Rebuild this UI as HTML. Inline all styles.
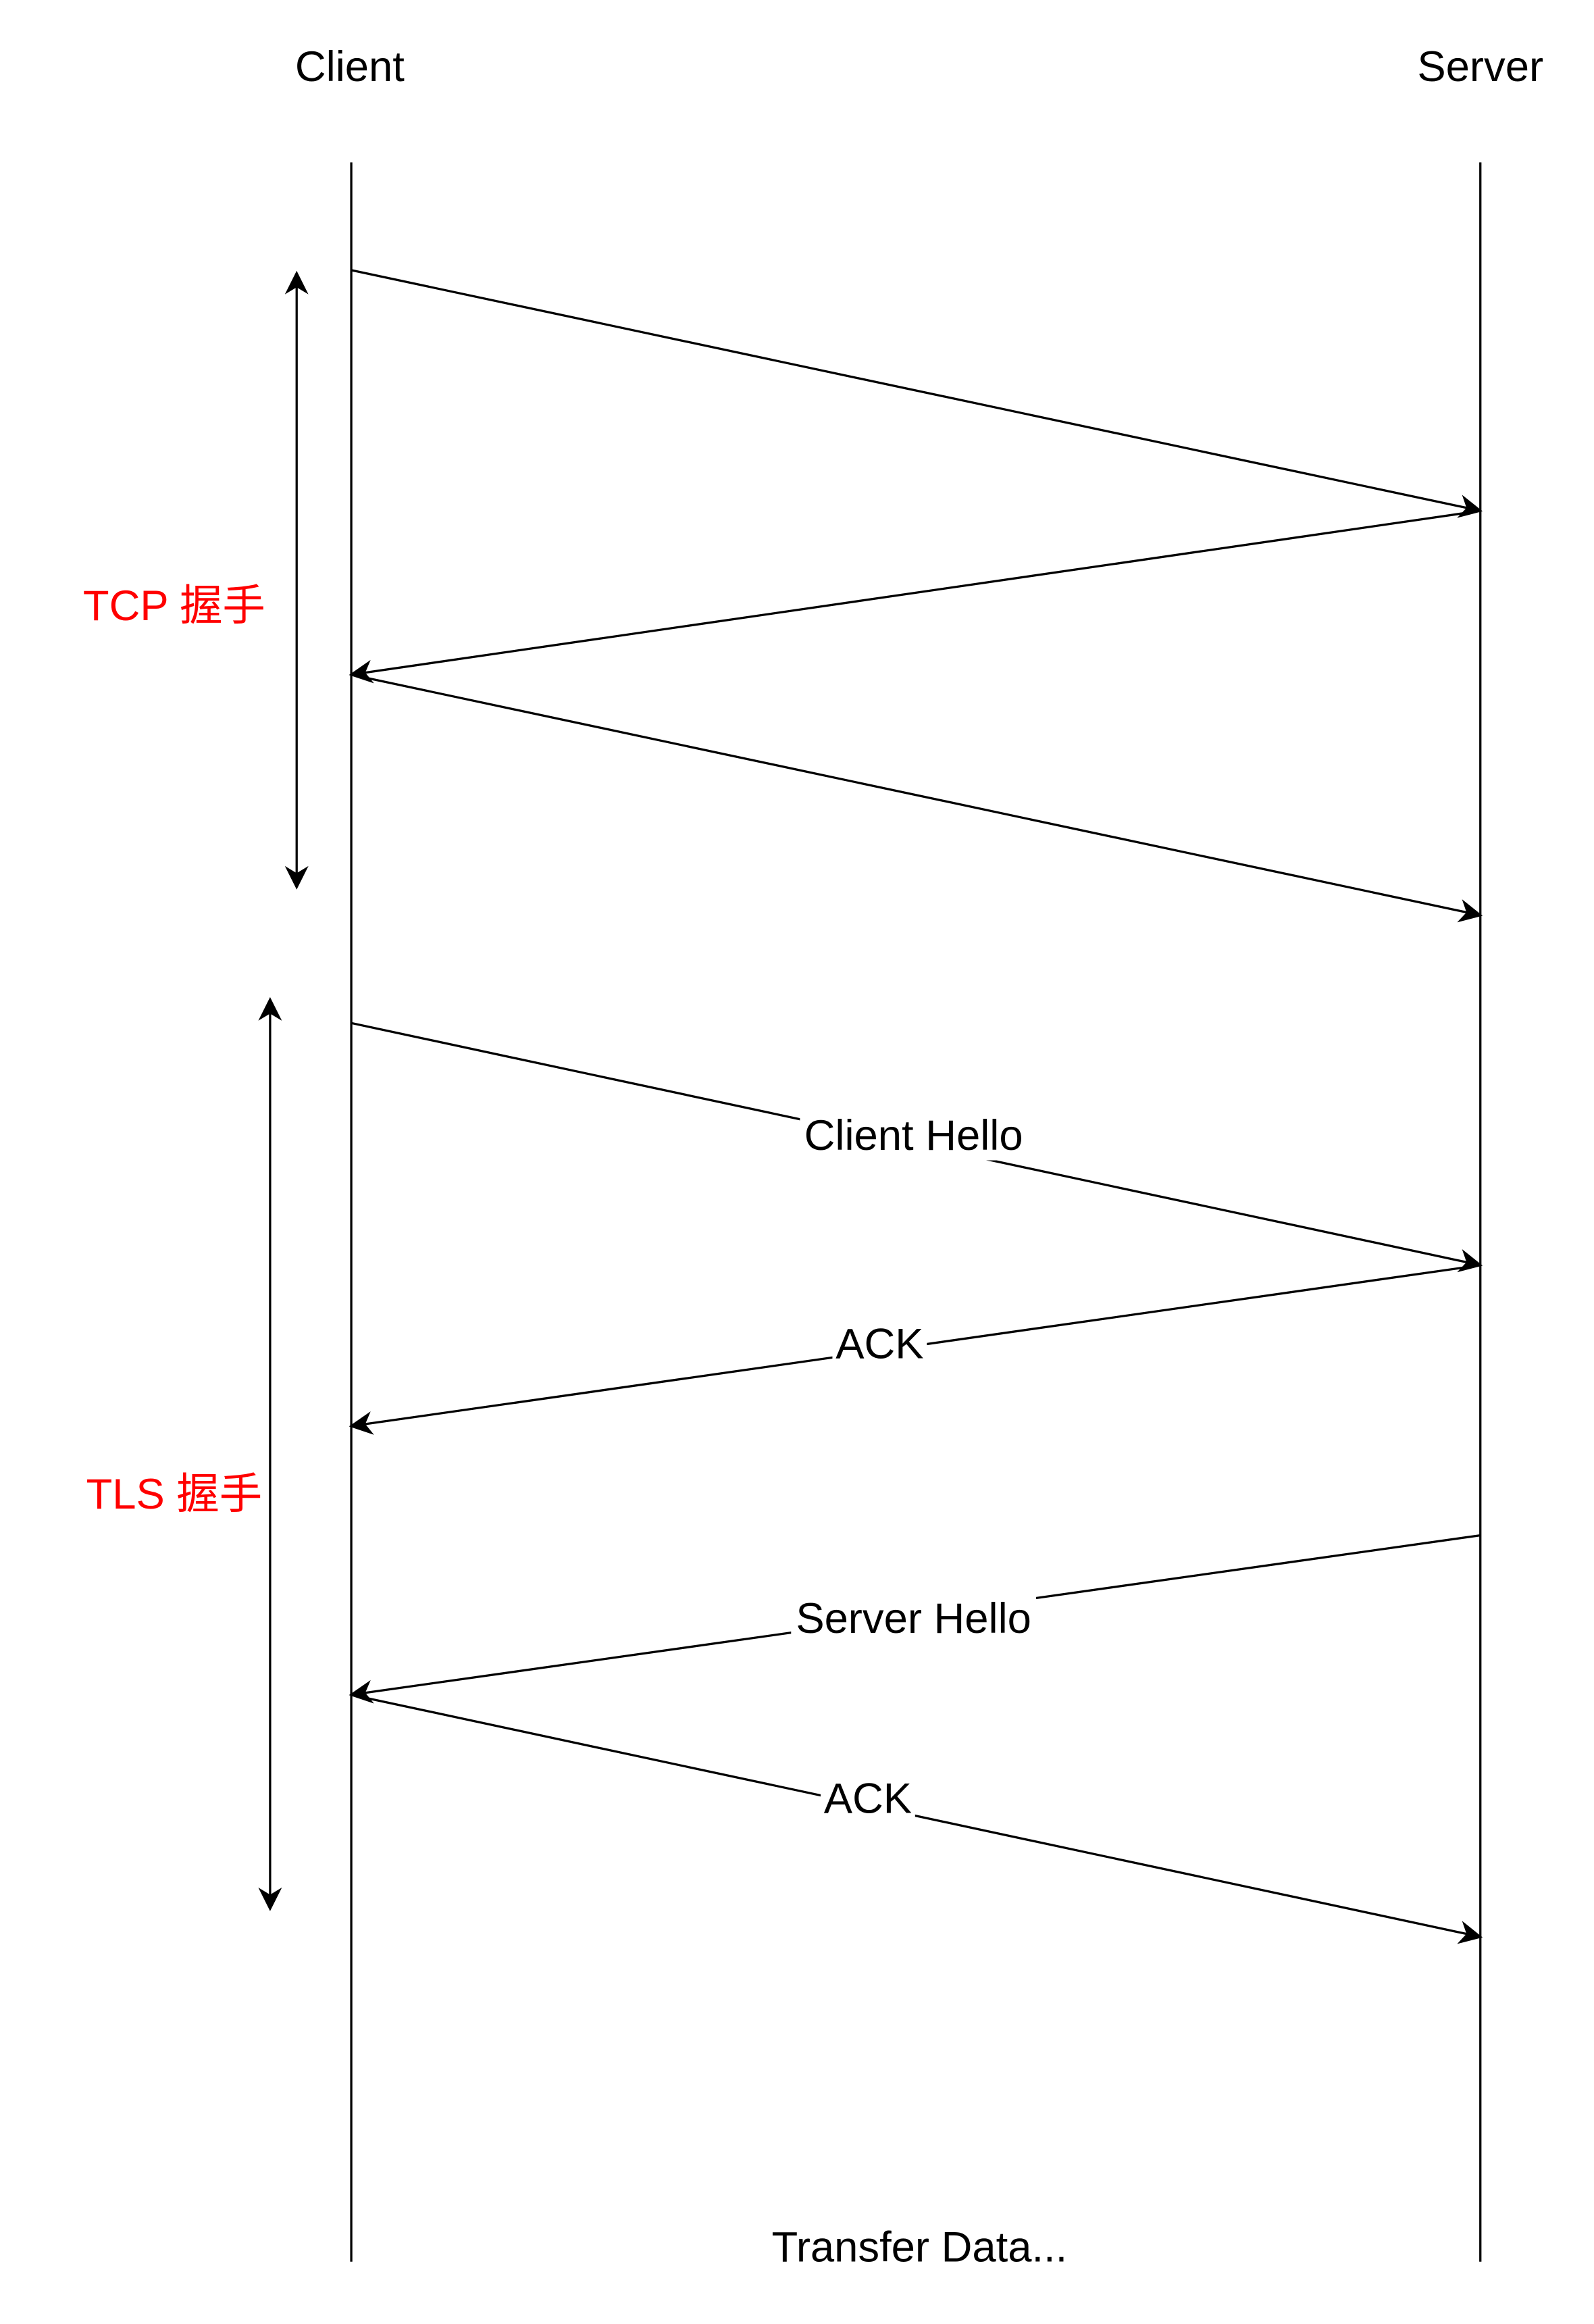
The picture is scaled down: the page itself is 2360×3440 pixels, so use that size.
<!DOCTYPE html>
<html><head><meta charset="utf-8"><style>html,body{margin:0;padding:0;background:#fff}svg{display:block}</style></head>
<body>
<svg width="2360" height="3440" viewBox="0 0 1080 1574.24" preserveAspectRatio="none" xmlns="http://www.w3.org/2000/svg">
<defs>
<marker id="b" viewBox="0 0 10 10" refX="9" refY="5" markerWidth="16" markerHeight="16" orient="auto-start-reverse" markerUnits="userSpaceOnUse">
<path d="M0,0 L10,5 L0,10 L3,5 Z" fill="#000"/>
</marker>
</defs>
<g font-family="Liberation Sans, Noto Sans CJK SC, sans-serif" font-size="29" text-anchor="middle">
<text x="237" y="55">Client</text>
<text x="1003" y="55">Server</text>
<line x1="238" y1="110" x2="238" y2="1532" stroke="#000" stroke-width="1.5"/>
<line x1="1003" y1="110" x2="1003" y2="1532" stroke="#000" stroke-width="1.5"/>
<g stroke="#000" stroke-width="1.5" fill="none" marker-end="url(#b)">
<line x1="238" y1="183" x2="1003" y2="346"/>
<line x1="1003" y1="346" x2="238" y2="457"/>
<line x1="238" y1="457" x2="1003" y2="620"/>
<line x1="238" y1="693" x2="1003" y2="857"/>
<line x1="1003" y1="857" x2="238" y2="966"/>
<line x1="1003" y1="1040" x2="238" y2="1148"/>
<line x1="238" y1="1148" x2="1003" y2="1312"/>
<line x1="201" y1="185" x2="201" y2="601" marker-start="url(#b)"/>
<line x1="183" y1="677" x2="183" y2="1293" marker-start="url(#b)"/>
</g>
<g fill="#fff">
<rect x="542" y="752" width="154" height="34"/>
<rect x="564" y="893" width="64" height="34"/>
<rect x="536" y="1079" width="166" height="34"/>
<rect x="556" y="1201" width="64" height="34"/>
</g>
<text x="619" y="779">Client Hello</text>
<text x="596" y="920">ACK</text>
<text x="619" y="1106">Server Hello</text>
<text x="588" y="1228">ACK</text>
<text x="118" y="420" fill="#ff0000">TCP 握手</text>
<text x="118" y="1022" fill="#ff0000">TLS 握手</text>
<text x="623" y="1532">Transfer Data...</text>
</g>
</svg>
</body></html>
